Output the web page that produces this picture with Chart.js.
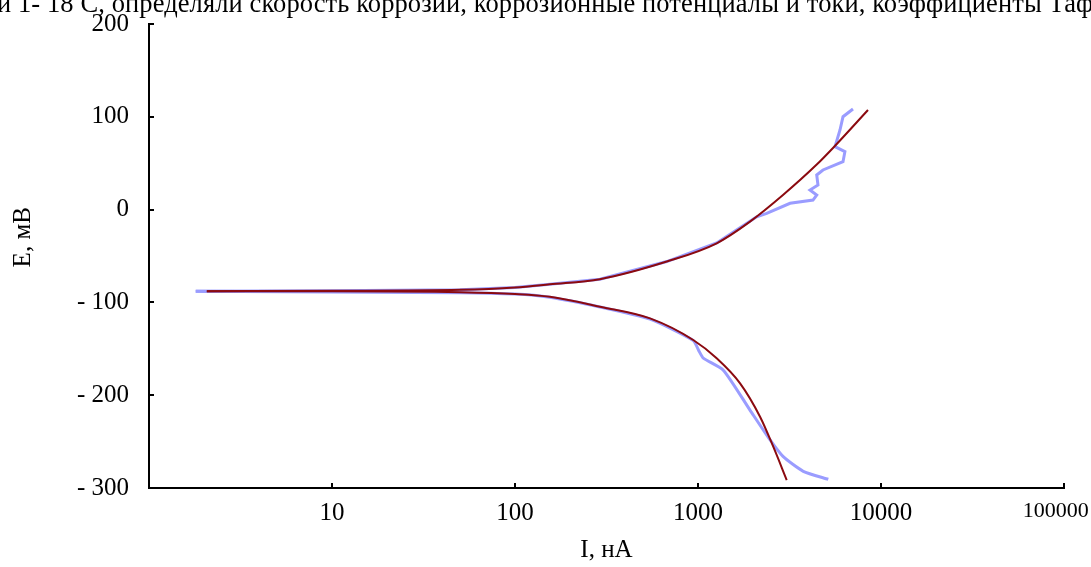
<!DOCTYPE html>
<html>
<head>
<meta charset="utf-8">
<script src="https://cdn.jsdelivr.net/npm/chart.js@4"></script>
<style>
  body { margin: 0; background: #fff; overflow: hidden; }
  #wrap { position: relative; width: 1091px; height: 567px; overflow: hidden; }
  #topText {
    position: absolute; left: -3px; top: -10px; white-space: nowrap; letter-spacing: 0.1px;
    font-family: "Liberation Serif", "Times New Roman", serif; font-size: 26.5px; line-height: 26px; color: #000;
  }
  canvas { position: absolute; left: 0; top: 0; }
</style>
</head>
<body>
<div id="wrap">
  <canvas id="chart" width="1091" height="567"></canvas>
  <div id="topText">и 1- 18 С, определяли скорость коррозии, коррозионные потенциалы и токи, коэффициенты Тафеля</div>
</div>
<script>
// current, nA (log axis) and potential, mV
// measured curve (blue), anodic branch
const measAnodicI = [1.8, 10, 50, 100, 155, 291, 675, 1265, 2093, 2373, 3184, 4250, 4454, 4093, 4525, 4454, 4820, 6200, 6350, 5606, 5970, 6200, 7030];
const measAnodicE = [-88, -87.5, -86.5, -84, -80.5, -75, -56, -36, -7.7, -4, 6.8, 10.3, 15.7, 21.1, 26.5, 37.3, 42.7, 51.6, 62.4, 67.8, 85.8, 100.1, 108.4];
// measured curve (blue), cathodic branch
const measCathodicI = [1.8, 50, 100, 155, 291, 547, 942, 1010, 1069, 1375, 1923, 2472, 2913, 3760, 5152];
const measCathodicE = [-88, -89.5, -91, -94.5, -105, -118, -141, -152, -160, -173, -216, -248, -266, -282, -290.6];
// fitted curve (red)
const fitAnodicI = [2.07, 10, 50, 100, 155, 291, 675, 1265, 1923, 2913, 4454, 5466, 8490];
const fitAnodicE = [-88, -87.5, -86.5, -84, -80.5, -75, -56, -36.3, -13, 15.7, 48.5, 66.4, 107.3];
const fitCathodicI = [2.07, 10, 50, 100, 155, 291, 547, 942, 1265, 1698, 2183, 2578, 3053];
const fitCathodicE = [-88, -88, -89, -91, -94, -104.6, -117.2, -140.5, -160.2, -187.2, -223.2, -255.5, -291.4];

const xTicks = [10, 100, 1000, 10000, 100000];
const yTicks = [-300, -200, -100, 0, 100, 200];

const toPts = (xs, ys) => xs.map((x, i) => ({ x: x, y: ys[i] }));

const serif = '"Liberation Serif", "Times New Roman", serif';
const RED = '#8b0a10';
const BLUE = '#9a9cff';

// short inward tick marks on both axes
const innerTicks = {
  id: 'innerTicks',
  afterDraw(chart) {
    const { ctx, scales: { x, y }, chartArea: a } = chart;
    ctx.save();
    ctx.strokeStyle = '#000';
    ctx.lineWidth = 2;
    ctx.beginPath();
    xTicks.forEach(v => {
      const px = Math.round(x.getPixelForValue(v));
      ctx.moveTo(px, a.bottom); ctx.lineTo(px, a.bottom - 5);
    });
    yTicks.forEach(v => {
      const py = Math.round(y.getPixelForValue(v));
      ctx.moveTo(a.left, py); ctx.lineTo(a.left + 5, py);
    });
    ctx.stroke();
    ctx.restore();
  }
};

new Chart(document.getElementById('chart'), {
  type: 'scatter',
  data: {
    datasets: [
      { data: toPts(fitAnodicI, fitAnodicE), borderColor: RED, borderWidth: 2, showLine: true, pointRadius: 0, cubicInterpolationMode: 'monotone' },
      { data: toPts(fitCathodicI, fitCathodicE), borderColor: RED, borderWidth: 2, showLine: true, pointRadius: 0, cubicInterpolationMode: 'monotone' },
      { data: toPts(measAnodicI, measAnodicE), borderColor: BLUE, borderWidth: 3, showLine: true, pointRadius: 0, tension: 0 },
      { data: toPts(measCathodicI, measCathodicE), borderColor: BLUE, borderWidth: 3, showLine: true, pointRadius: 0, tension: 0.2 }
    ]
  },
  options: {
    responsive: false,
    animation: false,
    layout: { padding: { left: 0, right: 27, top: 24, bottom: 0 } },
    plugins: { legend: { display: false }, tooltip: { enabled: false } },
    scales: {
      x: {
        type: 'logarithmic',
        min: 1,
        max: 100000,
        afterBuildTicks: s => { s.ticks = xTicks.map(v => ({ value: v })); },
        afterFit: s => { s.height = 79; s.paddingLeft = 0; s.paddingRight = 0; },
        grid: { drawOnChartArea: false, drawTicks: false },
        border: { display: true, color: '#000', width: 2 },
        ticks: {
          color: '#000',
          font: c => ({ family: serif, size: c.tick && c.tick.value === 100000 ? 22 : 25 }),
          padding: 10, maxRotation: 0, autoSkip: false,
          callback: v => v === 100000 ? v + '   ' : String(v)
        },
        title: { display: true, text: 'I, нА', color: '#000', font: { family: serif, size: 25 }, padding: { top: 0, bottom: 2 } }
      },
      y: {
        min: -300,
        max: 200,
        afterBuildTicks: s => { s.ticks = yTicks.map(v => ({ value: v })); },
        afterFit: s => { s.width = 149; s.paddingTop = 0; s.paddingBottom = 0; },
        grid: { drawOnChartArea: false, drawTicks: false },
        border: { display: true, color: '#000', width: 2 },
        ticks: { color: '#000', font: { family: serif, size: 25 }, padding: 20, callback: v => v < 0 ? '- ' + Math.abs(v) : String(v) },
        title: { display: true, text: '      E, мВ', color: '#000', font: { family: serif, size: 25 }, padding: { top: 8, bottom: 0 } }
      }
    }
  },
  plugins: [innerTicks]
});
</script>
</body>
</html>
